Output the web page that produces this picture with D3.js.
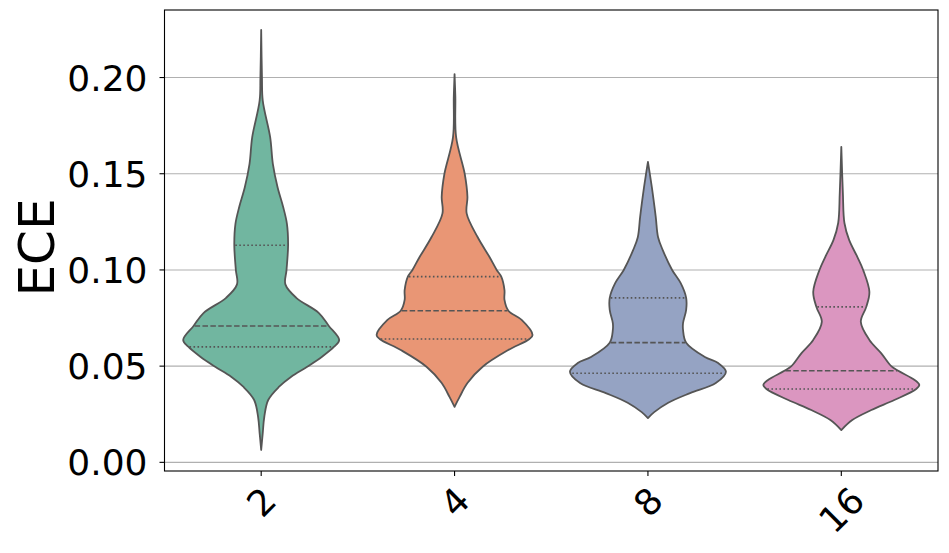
<!DOCTYPE html>
<html>
<head>
<meta charset="utf-8">
<script src="https://cdn.jsdelivr.net/npm/d3@7"></script>
<style>
  body { margin: 0; background: #fff; }
  text { font-family: "DejaVu Sans", sans-serif; }
</style>
</head>
<body>
<div id="chart"></div>
<script>
// ECE violins, one per category
const categories = ['2', '4', '8', '16'];
const colors = ['#71b6a0', '#e99675', '#95a3c3', '#db96c0'];

// quartiles
const q1 = [0.0600, 0.0641, 0.0463, 0.0381];
const medians = [0.0709, 0.0788, 0.0622, 0.0476];
const q3 = [0.1128, 0.0965, 0.0855, 0.0808];

// density profiles: [ECE, relative density]
const kde2 = [[0.2247, 0], [0.20, 0.01], [0.188, 0.02], [0.169, 0.115], [0.155, 0.15], [0.143, 0.21],
  [0.133, 0.28], [0.124, 0.33], [0.113, 0.345], [0.100, 0.325], [0.0925, 0.31], [0.0855, 0.45],
  [0.0776, 0.74], [0.071, 0.865], [0.0636, 1.0], [0.0601, 0.935], [0.0549, 0.78], [0.0497, 0.59],
  [0.0445, 0.385], [0.0393, 0.23], [0.0324, 0.09], [0.0237, 0.04], [0.0152, 0.02], [0.0064, 0]];
const kde4 = [[0.2018, 0], [0.19, 0.01], [0.169, 0.02], [0.150, 0.13], [0.138, 0.165], [0.1294, 0.155],
  [0.1171, 0.295], [0.1066, 0.45], [0.100, 0.54], [0.0964, 0.6], [0.0895, 0.64], [0.0844, 0.64],
  [0.0788, 0.69], [0.074, 0.86], [0.0662, 1.0], [0.0641, 0.96], [0.0584, 0.69], [0.0497, 0.36],
  [0.0412, 0.165], [0.034, 0.065], [0.0288, 0]];
const kde8 = [[0.1562, 0], [0.143, 0.05], [0.1276, 0.1], [0.117, 0.13], [0.1103, 0.19], [0.100, 0.31],
  [0.0931, 0.42], [0.0855, 0.49], [0.0792, 0.49], [0.0724, 0.45], [0.0688, 0.45], [0.0622, 0.49],
  [0.0548, 0.73], [0.0516, 0.9], [0.0471, 1.0], [0.0412, 0.87], [0.036, 0.54], [0.031, 0.26],
  [0.0261, 0.08], [0.023, 0]];
const kde16 = [[0.164, 0], [0.14, 0.02], [0.1244, 0.04], [0.1156, 0.1], [0.1068, 0.205], [0.100, 0.28],
  [0.0886, 0.36], [0.0808, 0.32], [0.073, 0.25], [0.0636, 0.36], [0.0568, 0.51], [0.05, 0.64],
  [0.0476, 0.73], [0.0428, 0.94], [0.0402, 1.0], [0.0381, 0.96], [0.0324, 0.68], [0.0272, 0.385],
  [0.022, 0.14], [0.0168, 0]];
const profiles = [kde2, kde4, kde8, kde16];

const yTicks = [0, 0.05, 0.10, 0.15, 0.20];
const yLabel = 'ECE';

const width = 949, height = 553;
const plotLeft = 164.5, plotRight = 938, plotTop = 10, plotBottom = 471;
const lineColor = '#555';

const svg = d3.select('#chart').append('svg')
    .attr('width', width)
    .attr('height', height);

const x = d3.scaleBand().domain(categories).range([plotLeft, plotRight]);
const y = d3.scaleLinear().domain([-0.0045, 0.2351]).range([plotBottom, plotTop]);
const w = d3.scaleLinear().domain([0, 1]).range([0, 78]);

// grid
svg.append('g').selectAll('line')
    .data(yTicks)
    .enter().append('line')
    .attr('x1', plotLeft).attr('x2', plotRight)
    .attr('y1', d => y(d)).attr('y2', d => y(d))
    .attr('stroke', '#b0b0b0')
    .attr('stroke-width', 1.1);

// width of a violin at a value, linear between profile points
function widthAt(prof, v) {
    const asc = prof.slice().sort((a, b) => a[0] - b[0]);
    for (let k = 0; k < asc.length - 1; k++) {
        if (v >= asc[k][0] && v <= asc[k + 1][0]) {
            const t = (v - asc[k][0]) / (asc[k + 1][0] - asc[k][0]);
            return asc[k][1] + t * (asc[k + 1][1] - asc[k][1]);
        }
    }
    return 0;
}

const violins = svg.append('g').selectAll('g')
    .data(categories)
    .enter().append('g');

violins.each(function(c, i) {
    const g = d3.select(this);
    const cx = x(c) + x.bandwidth() / 2;
    const prof = profiles[i];

    const area = d3.area()
        .curve(d3.curveCatmullRom.alpha(0.5))
        .y(d => y(d[0]))
        .x0(d => cx - w(d[1]))
        .x1(d => cx + w(d[1]));

    g.append('path')
        .attr('d', area(prof))
        .attr('fill', colors[i])
        .attr('stroke', lineColor)
        .attr('stroke-width', 1.8)
        .attr('stroke-linejoin', 'round');

    const inner = [
        { v: q1[i], dash: '1.6,2.4' },
        { v: medians[i], dash: '5.5,2.4' },
        { v: q3[i], dash: '1.6,2.4' }
    ];
    inner.forEach(q => {
        const hw = w(widthAt(prof, q.v)) - 1;
        g.append('line')
            .attr('x1', cx - hw).attr('x2', cx + hw)
            .attr('y1', y(q.v)).attr('y2', y(q.v))
            .attr('stroke', lineColor)
            .attr('stroke-width', 1.6)
            .attr('stroke-dasharray', q.dash);
    });
});

// frame
svg.append('rect')
    .attr('x', plotLeft).attr('y', plotTop)
    .attr('width', plotRight - plotLeft).attr('height', plotBottom - plotTop)
    .attr('fill', 'none')
    .attr('stroke', '#000')
    .attr('stroke-width', 1.1);

// y axis ticks + labels
const yt = svg.append('g').selectAll('g')
    .data(yTicks)
    .enter().append('g')
    .attr('transform', d => `translate(0,${y(d)})`);
yt.append('line')
    .attr('x1', plotLeft - 5).attr('x2', plotLeft)
    .attr('stroke', '#000').attr('stroke-width', 1.1);
yt.append('text')
    .attr('x', plotLeft - 17)
    .attr('dy', '0.36em')
    .attr('text-anchor', 'end')
    .style('font-size', '36px')
    .text(d => d3.format('.2f')(d));

// x axis ticks + rotated labels
const xt = svg.append('g').selectAll('g')
    .data(categories)
    .enter().append('g')
    .attr('transform', d => `translate(${x(d) + x.bandwidth() / 2},${plotBottom})`);
xt.append('line')
    .attr('y1', 0).attr('y2', 5)
    .attr('stroke', '#000').attr('stroke-width', 1.1);
xt.append('text')
    .attr('text-anchor', 'middle')
    .attr('dy', '0.36em')
    .style('font-size', '36px')
    .text(d => d)
    .each(function() {
        const t = d3.select(this);
        const len = this.getComputedTextLength();
        const h = (len + 36) / Math.SQRT2;
        t.attr('transform', `translate(0,${10 + h / 2}) rotate(-45)`);
    });

// y label
svg.append('text')
    .attr('transform', `translate(54,${(plotTop + plotBottom) / 2 + 7}) rotate(-90)`)
    .attr('text-anchor', 'middle')
    .style('font-size', '50px')
    .text(yLabel);
</script>
</body>
</html>
